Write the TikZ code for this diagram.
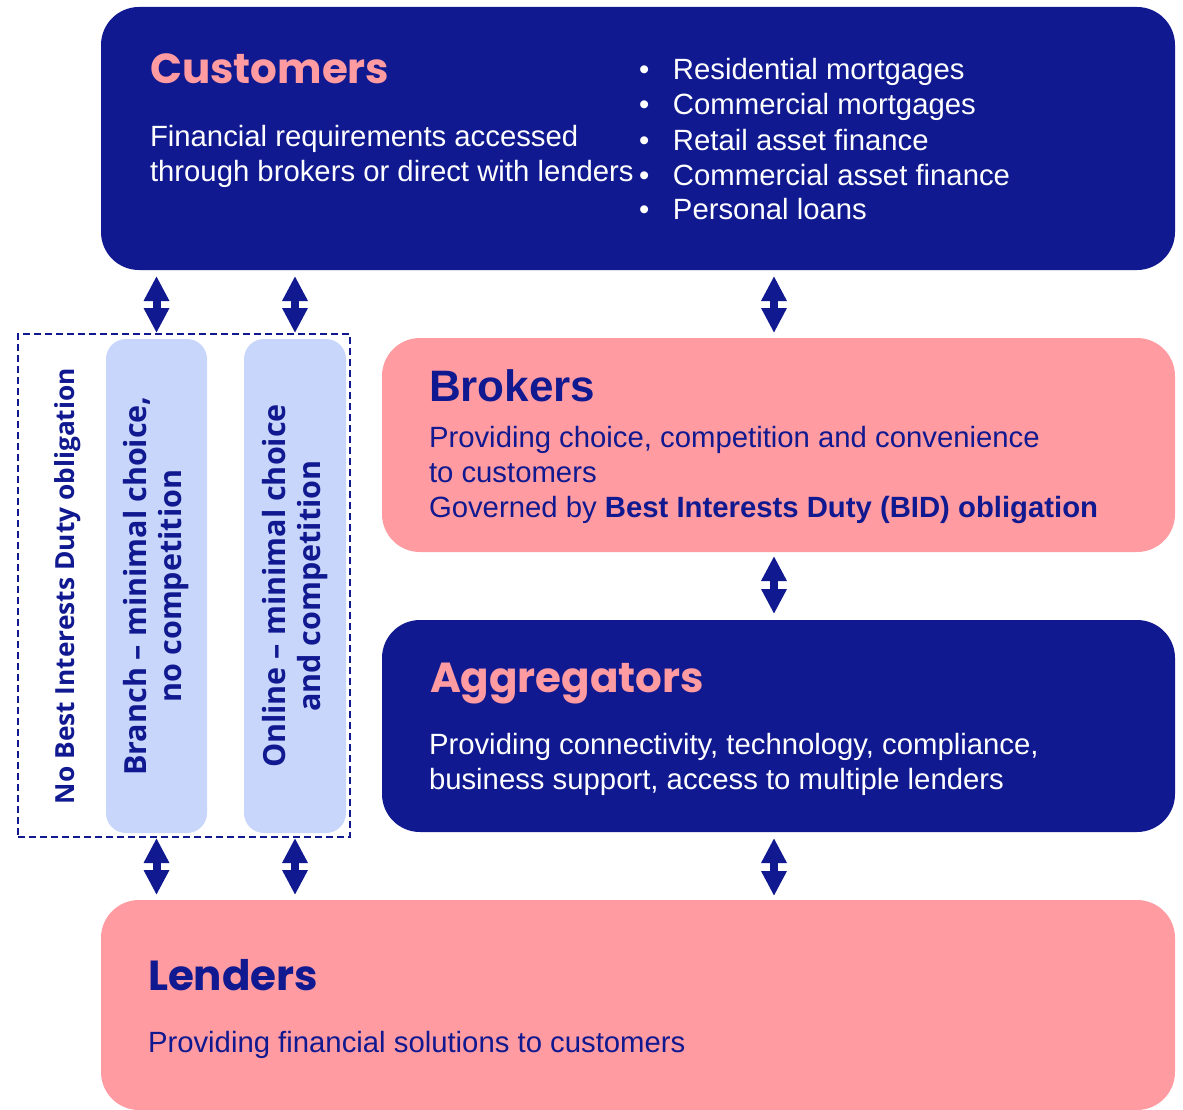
\documentclass[tikz,border=0pt]{standalone}
\usepackage{fontspec}
\setmainfont{Liberation Sans}
\newfontfamily\headfont{Poppins}
\newfontfamily\sidefont{Open Sans}
\usetikzlibrary{arrows.meta}
\definecolor{navy}{RGB}{16,25,143}
\definecolor{rose}{RGB}{255,155,161}
\definecolor{lilac}{RGB}{201,214,252}
\begin{document}
\begin{tikzpicture}[x=1pt,y=-1pt,
  panel/.style={rectangle, rounded corners=38pt, inner sep=0pt, outer sep=0pt, anchor=north west},
  lane/.style={rectangle, rounded corners=20pt, fill=lilac, inner sep=0pt, outer sep=0pt, anchor=north west},
  txt/.style={inner sep=0pt, outer sep=0pt, anchor=base west, align=left, font=\fontsize{29.3}{35}\selectfont},
  head/.style={inner sep=0pt, outer sep=0pt, anchor=base west, font=\headfont\bfseries\fontsize{42}{50}\selectfont},
  side/.style={inner sep=0pt, outer sep=0pt, rotate=90, text=navy, align=center, font=\sidefont\bfseries\fontsize{30.5}{35}\selectfont},
  dbl/.style={draw=navy, line width=8pt, {Triangle[length=25pt,width=24pt]}-{Triangle[length=25pt,width=24pt]}, shorten <=5pt, shorten >=5pt},
]
\useasboundingbox (0,0) rectangle (1183,1110);

% panels
\node[panel, fill=navy, minimum width=1074pt, minimum height=263pt] (cust) at (101,7) {};
\node[panel, fill=rose, minimum width=793pt, minimum height=214pt] (brokers) at (382,338) {};
\node[panel, fill=navy, minimum width=793pt, minimum height=212pt] (aggr) at (382,620) {};
\node[panel, fill=rose, minimum width=1074pt, minimum height=210pt] (lenders) at (101,900) {};

% direct channels
\node[rectangle, draw=navy, dash pattern=on 7pt off 4pt, line width=2.5pt, inner sep=0pt, outer sep=0pt,
      anchor=north west, minimum width=332pt, minimum height=503pt] (nbid) at (18,334) {};
\node[lane, minimum width=101pt, minimum height=494pt] (branch) at (106,339) {};
\node[lane, minimum width=102pt, minimum height=494pt] (online) at (244,339) {};

% customers (multi-line nodes sit on the baseline of their last line)
\node[head, text=rose] (custhead) at (150,84) {Customers};
\node[txt, text=white] (custtxt) at (150,182) {Financial requirements accessed\\through brokers or direct with lenders};
\node[txt, text=white] (custlist) at (639,220) {%
  \makebox[34pt][l]{•}Residential mortgages\\
  \makebox[34pt][l]{•}Commercial mortgages\\
  \makebox[34pt][l]{•}Retail asset finance\\
  \makebox[34pt][l]{•}Commercial asset finance\\
  \makebox[34pt][l]{•}Personal loans};

% brokers
\node[txt, text=navy, font=\bfseries\fontsize{44}{50}\selectfont] (brokhead) at (429,401) {Brokers};
\node[txt, text=navy] (broktxt) at (429,517) {Providing choice, competition and convenience\\to customers\\Governed by \textbf{Best Interests Duty (BID) obligation}};

% aggregators
\node[head, text=rose] (aggrhead) at (430,692) {Aggregators};
\node[txt, text=white] (aggrtxt) at (429,789) {Providing connectivity, technology, compliance,\\business support, access to multiple lenders};

% lenders
\node[head, text=navy] (lendhead) at (148,990) {Lenders};
\node[txt, text=navy] (lendtxt) at (148,1052) {Providing financial solutions to customers};

% vertical labels
\node[side, anchor=base, font=\sidefont\bfseries\fontsize{26.3}{35}\selectfont] (nobid) at (74,586) {No Best Interests Duty obligation};
\node[side] (branchtxt) at (branch.center) {Branch – minimal choice,\\no competition};
\node[side] (onlinetxt) at (online.center) {Online – minimal choice\\and competition};

% connectors
\coordinate (mid) at (774,0);
\draw[dbl, shorten >=1pt, shorten <=6pt] (cust.south -| branch.north) -- (nbid.north -| branch.north);
\draw[dbl, shorten >=1pt, shorten <=6pt] (cust.south -| online.north) -- (nbid.north -| online.north);
\draw[dbl, shorten <=6pt] (cust.south -| mid) -- (brokers.north -| mid);
\draw[dbl, shorten <=4pt, shorten >=6pt] (brokers.south -| mid) -- (aggr.north -| mid);
\draw[dbl, shorten <=6pt, shorten >=4pt] (aggr.south -| mid) -- (lenders.north -| mid);
\draw[dbl, shorten <=1pt] (nbid.south -| branch.south) -- (lenders.north -| branch.south);
\draw[dbl, shorten <=1pt] (nbid.south -| online.south) -- (lenders.north -| online.south);
\end{tikzpicture}
\end{document}
